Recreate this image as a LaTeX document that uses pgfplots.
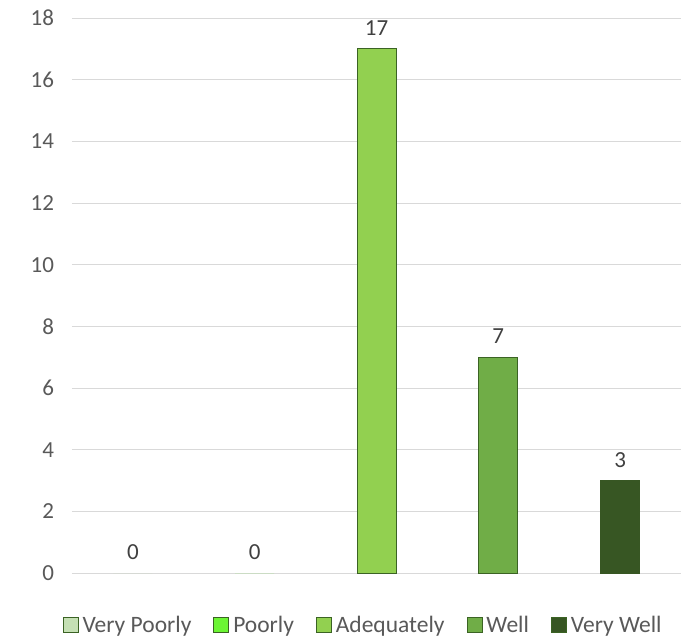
\documentclass[border=0pt]{standalone}
\usepackage{fontspec}
\setmainfont{Carlito}
\usepackage{pgfplots}
\pgfplotsset{compat=1.18}

\definecolor{txt}{HTML}{595959}
\definecolor{lbl}{HTML}{404040}
\definecolor{gridc}{HTML}{D9D9D9}
\definecolor{edge}{HTML}{3B6324}
\definecolor{cvp}{HTML}{C5E0B4}
\definecolor{cp}{HTML}{6CF534}
\definecolor{ca}{HTML}{92D050}
\definecolor{cw}{HTML}{70AD47}
\definecolor{cvw}{HTML}{375623}

\begin{document}
\begin{tikzpicture}
\path[use as bounding box] (-72pt,-65pt) rectangle (618pt,573pt);
\begin{axis}[
    scale only axis,
    width=609pt, height=555pt,
    xmin=-0.5, xmax=4.5,
    ymin=0, ymax=18,
    ytick={0,2,...,18},
    xtick=\empty,
    ymajorgrids,
    grid style={gridc, line width=0.9pt},
    axis line style={draw=none},
    major tick style={draw=none},
    /pgf/number format/assume math mode=true,
    font=\fontsize{23}{27}\selectfont,
    yticklabel style={text=txt, xshift=-14.5pt},
    ybar, bar width=39pt, bar shift=0pt,
    nodes near coords,
    nodes near coords style={text=lbl, font=\fontsize{23}{27}\selectfont, yshift=9.5pt},
    every axis plot/.append style={draw=edge, line width=0.9pt},
    area legend,
    legend columns=5,
    legend style={at={(0.478,-52pt)}, anchor=center, draw=none, text=txt,
        font=\fontsize{23.5}{27}\selectfont, inner sep=0pt,
        /tikz/every odd column/.append style={column sep=2pt},
        /tikz/every even column/.append style={column sep=20pt}},
    legend image code/.code={\draw[#1, draw=edge, line width=0.9pt] (0pt,-7.5pt) rectangle (15pt,7.5pt);},
]
\addplot[fill=cvp, draw=none] coordinates {(0,0)};
\addlegendentry{Very Poorly}
\addplot[fill=cp, draw=none] coordinates {(1,0)};
\addlegendentry{Poorly}
\addplot[fill=ca] coordinates {(2,17)};
\addlegendentry{Adequately}
\addplot[fill=cw] coordinates {(3,7)};
\addlegendentry{Well}
\addplot[fill=cvw, draw=cvw] coordinates {(4,3)};
\addlegendentry{Very Well}
\end{axis}
\end{tikzpicture}
\end{document}
